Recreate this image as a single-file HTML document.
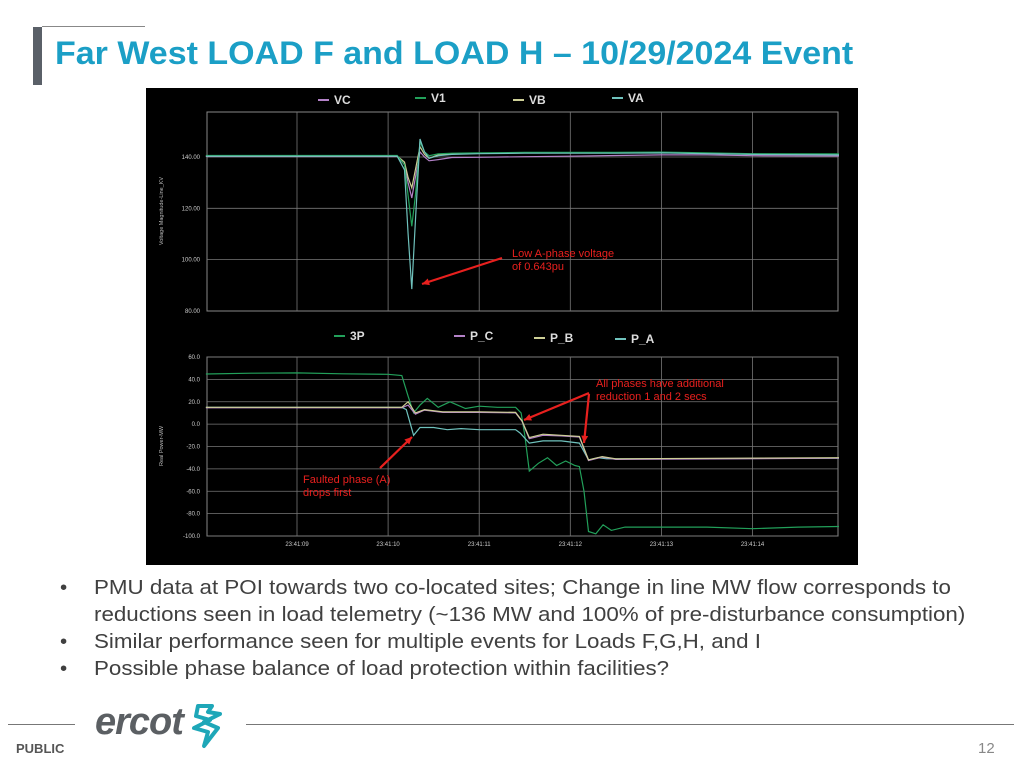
<!DOCTYPE html>
<html><head><meta charset="utf-8"><style>
body{margin:0;width:1024px;height:768px;background:#fff;position:relative;overflow:hidden;font-family:"Liberation Sans",sans-serif}
.abs{position:absolute}
.bul{position:absolute;left:60px;font-size:20.5px;color:#404040;line-height:27px;white-space:nowrap}
.bul span{position:absolute;left:0}
.bul div{margin-left:34px;transform:scaleX(1.09);transform-origin:0 0}
</style></head><body>
<div class="abs" style="left:33px;top:27px;width:9px;height:58px;background:#5a6068"></div>
<div class="abs" style="left:42px;top:26px;width:103px;height:1px;background:#888"></div>
<div class="abs" style="left:55px;top:35px;font-size:32px;font-weight:bold;color:#1b9fc6;white-space:nowrap;transform:scaleX(1.062);transform-origin:0 0">Far West LOAD F and LOAD H – 10/29/2024 Event</div>
<svg id="chart" class="abs" style="left:146px;top:88px" width="712" height="477"></svg>
<div class="bul" style="top:574px"><span>•</span><div>PMU data at POI towards two co-located sites; Change in line MW flow corresponds to<br>reductions seen in load telemetry (~136 MW and 100% of pre-disturbance consumption)</div></div>
<div class="bul" style="top:628px"><span>•</span><div>Similar performance seen for multiple events for Loads F,G,H, and I</div></div>
<div class="bul" style="top:655px"><span>•</span><div>Possible phase balance of load protection within facilities?</div></div>
<div class="abs" style="left:8px;top:724px;width:67px;height:1px;background:#777"></div>
<div class="abs" style="left:246px;top:724px;width:768px;height:1px;background:#777"></div>
<div class="abs" style="left:95px;top:701px;font-size:38px;font-style:italic;font-weight:bold;color:#5b5f63;letter-spacing:-1px">ercot</div>
<svg class="abs" style="left:190px;top:702px" width="36" height="48"><path d="M8 4 L22 4 L18 10 L30 12 L14 20 L28 26 L14 44 L18 30 L4 26 L20 18 L6 14 Z" fill="none" stroke="#1ea7b8" stroke-width="4" stroke-linejoin="round"/></svg>
<div class="abs" style="left:16px;top:741px;font-size:13px;font-weight:bold;color:#555">PUBLIC</div>
<div class="abs" style="left:978px;top:740px;font-size:15px;color:#888">12</div>
<script>
const tV=[8,10.1,10.18,10.22,10.26,10.3,10.35,10.4,10.45,10.55,10.7,11,11.5,12,12.5,13,13.5,14,14.95];
const VA=[140.3,140.3,135,110,88.5,115,147,142,139.5,140.5,141,141.3,141.5,141.5,141.5,141.6,141.3,141,140.8];
const V1=[140.6,140.6,137,125,113,125,146,142,140.5,141.2,141.5,141.6,141.8,141.8,141.8,141.9,141.6,141.3,141.2];
const VB=[140.4,140.4,138,132,128,135,144,141,139.5,140.8,141.2,141.4,141.6,141.6,141.6,141.7,141.5,141.1,141];
const VC=[140.2,140.2,137,130,124,132,142,140,138.5,139,139.8,139.9,140.1,140.3,140.6,140.8,140.8,140.5,140.4];
const tP3=[8,8.5,9,9.5,10,10.15,10.22,10.28,10.35,10.43,10.55,10.68,10.85,11,11.2,11.4,11.46,11.5,11.55,11.65,11.75,11.85,11.95,12.05,12.1,12.15,12.2,12.28,12.36,12.45,12.6,13,13.5,14,14.5,14.95];
const P3=[44.8,45.5,45.8,45,44.5,43.5,25,10,17,23,15,20,14,16,15,15,10,-10,-42,-35,-30,-37,-33,-37,-38,-60,-96,-98,-90,-95,-92,-92,-92,-93.5,-92,-91.5];
const tPA=[8,10.15,10.2,10.28,10.35,10.5,10.65,10.8,11,11.4,11.45,11.55,11.7,11.9,12.1,12.2,12.3,12.4,13,14.95];
const PA=[15,15,13,-10,-3,-3,-5,-4,-5,-5,-8,-17,-15,-15,-17,-32,-30,-31,-31,-30.5];
const tPB=[8,10.15,10.22,10.3,10.4,10.6,11,11.4,11.47,11.55,11.7,11.9,12.1,12.2,12.35,12.5,14.95];
const PB=[15,15,20,10,13,11,11,10.5,3,-12,-9,-10,-11,-32,-29,-31,-30];
const PC=[14.6,14.6,17,9,12.5,10.5,10.5,10,2.5,-13,-10,-10.5,-11.5,-32.5,-29.5,-31.5,-30.5];
const vTicks=[140,120,100,80];
const pTicks=[60,40,20,0,-20,-40,-60,-80,-100];
const timeLabels=["23:41:09","23:41:10","23:41:11","23:41:12","23:41:13","23:41:14"];
const C={V1:"#22a05a",VA:"#6fc2bd",VB:"#cdcf96",VC:"#b482c8"};
const svg=document.getElementById('chart');const NS="http://www.w3.org/2000/svg";
function el(tag,a,p){const e=document.createElementNS(NS,tag);for(const k in a)e.setAttribute(k,a[k]);(p||svg).appendChild(e);return e;}
el('rect',{x:0,y:0,width:712,height:477,fill:'#000'});
const xS=t=>151+(t-9)*91.1;
const yV=v=>69+(140-v)*51.3/20;
const yP=v=>269+(60-v)*179/160;
function frame(top,bot,name){const r=el('rect',{x:61,y:top,width:631,height:bot-top,fill:'none',stroke:'#888','stroke-width':1});
for(let i=0;i<=5;i++){const x=xS(9+i);el('line',{x1:x,x2:x,y1:top,y2:bot,stroke:'#777','stroke-width':0.8});}}
frame(24,223,'voltage-plot-frame');frame(269,448,'power-plot-frame');
vTicks.forEach(v=>{const y=yV(v);if(v!==80)el('line',{x1:61,x2:692,y1:y,y2:y,stroke:'#777','stroke-width':0.8});const t=el('text',{x:54,y:y+2,'font-size':6,fill:'#ccc','text-anchor':'end'});t.textContent=v.toFixed(2);});
pTicks.forEach(v=>{const y=yP(v);el('line',{x1:61,x2:692,y1:y,y2:y,stroke:'#777','stroke-width':0.8});const t=el('text',{x:54,y:y+2,'font-size':6,fill:'#ccc','text-anchor':'end'});t.textContent=v.toFixed(1);});
timeLabels.forEach((s,i)=>{const t=el('text',{x:xS(9+i),y:458,'font-size':6,fill:'#ccc','text-anchor':'middle'});t.textContent=s;});
let a=el('text',{x:17,y:123,'font-size':5.5,fill:'#bbb','text-anchor':'middle',transform:'rotate(-90 17 123)'});a.textContent='Voltage Magnitude-Line_KV';
a=el('text',{x:17,y:358,'font-size':5.5,fill:'#bbb','text-anchor':'middle',transform:'rotate(-90 17 358)'});a.textContent='Real Power-MW';
function line(ts,vs,ys,col,name){const d=ts.map((t,i)=>(i?'L':'M')+xS(t).toFixed(1)+' '+ys(vs[i]).toFixed(1)).join(' ');const p=el('path',{d:d,fill:'none',stroke:col,'stroke-width':1.2});}
line(tV,VC,yV,C.VC,'series-vc');line(tV,VB,yV,C.VB,'series-vb');line(tV,V1,yV,C.V1,'series-v1');line(tV,VA,yV,C.VA,'series-va');
line(tP3,P3,yP,C.V1,'series-3p');line(tPA,PA,yP,C.VA,'series-p-a');line(tPB,PC,yP,C.VC,'series-p-c');line(tPB,PB,yP,C.VB,'series-p-b');
function leg(x,y,col,txt,name){const g=el('g',{});el('line',{x1:x-16,x2:x-5,y1:y-4,y2:y-4,stroke:col,'stroke-width':2},g);const t=el('text',{x:x,y:y,'font-size':12,'font-weight':'bold',fill:'#ddd'},g);t.textContent=txt;}
leg(188,16,C.VC,'VC','legend-vc');leg(285,14,C.V1,'V1','legend-v1');leg(383,16,C.VB,'VB','legend-vb');leg(482,14,C.VA,'VA','legend-va');
leg(204,252,C.V1,'3P','legend-3p');leg(324,252,C.VC,'P_C','legend-p-c');leg(404,254,C.VB,'P_B','legend-p-b');leg(485,255,C.VA,'P_A','legend-p-a');
function ann(x,y,lines,name){const g=el('g',{});lines.forEach((s,i)=>{const t=el('text',{x:x,y:y+i*13,'font-size':11,fill:'#e8201e'},g);t.textContent=s;});}
ann(366,169,['Low A-phase voltage','of 0.643pu'],'annotation-low-voltage');
ann(450,299,['All phases have additional','reduction 1 and 2 secs'],'annotation-reduction');
ann(157,395,['Faulted phase (A)','drops first'],'annotation-faulted');
function arrow(x1,y1,x2,y2){el('line',{x1:x1,y1:y1,x2:x2,y2:y2,stroke:'#e8201e','stroke-width':2.2});const an=Math.atan2(y2-y1,x2-x1),L=8;el('polygon',{points:`${x2},${y2} ${x2-L*Math.cos(an-0.45)},${y2-L*Math.sin(an-0.45)} ${x2-L*Math.cos(an+0.45)},${y2-L*Math.sin(an+0.45)}`,fill:'#e8201e'});}
arrow(356,170,276,196);arrow(234,380,266,349);arrow(443,305,378,332);arrow(443,306,438,355);
</script>
</body></html>
